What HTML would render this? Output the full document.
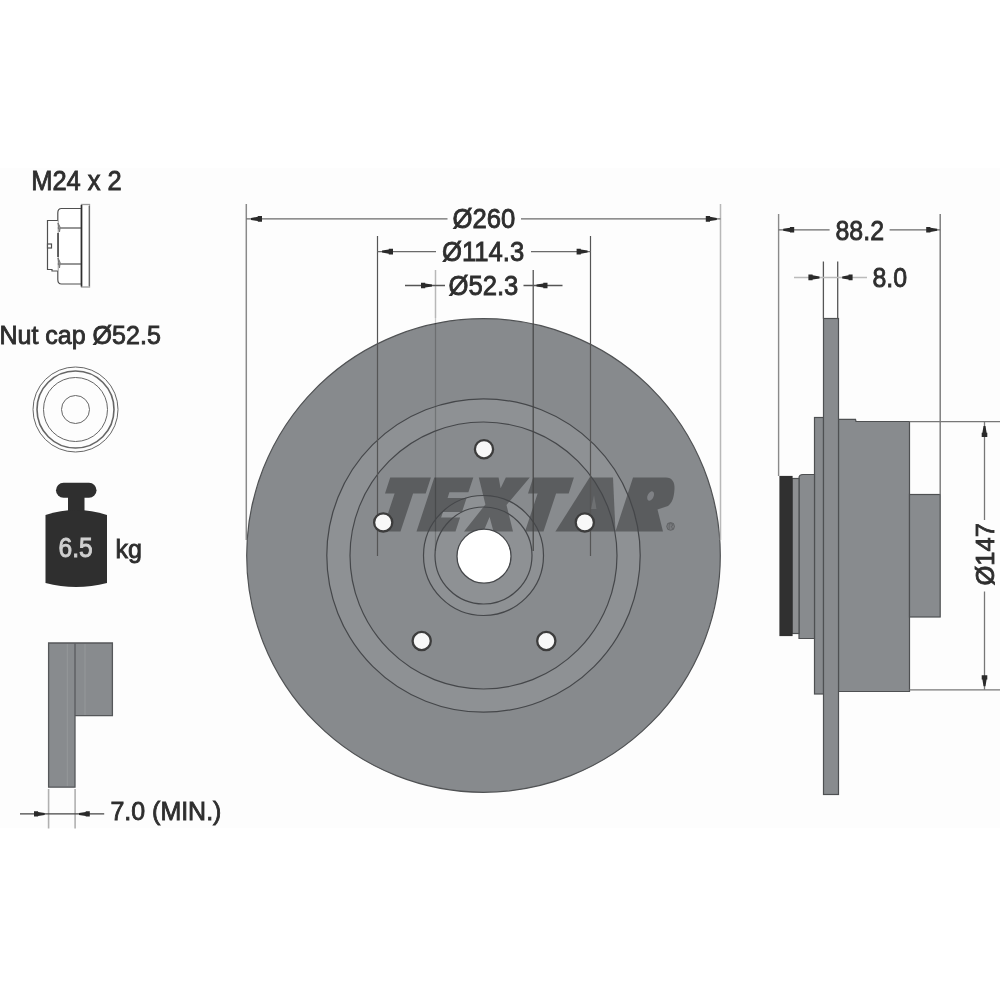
<!DOCTYPE html>
<html><head><meta charset="utf-8">
<style>
html,body{margin:0;padding:0;background:#fff;width:1000px;height:1000px;overflow:hidden}
svg{position:absolute;left:0;top:0;will-change:transform}
text{font-family:"Liberation Sans",sans-serif}
.t{fill:#2e2e2e;stroke:#2e2e2e;stroke-width:0.85px}
</style></head><body>
<svg width="1000" height="1000" viewBox="0 0 1000 1000">
<rect x="0" y="168" width="1000" height="660" fill="#fdfdfd"/>
<text transform="translate(31.2,189.5) scale(0.91,1)" font-size="28" class="t">M24 x 2</text>
<g fill="#fff" stroke="#505050" stroke-width="1.2">
  <path d="M81.5,208.5 H61.5 Q57.8,208.5 57.8,213 V279.5 Q57.8,284 61.5,284 H81.5 Z"/>
  <path d="M57.8,220.5 H47.5 V269.5 H52 V271 H57.8" fill="#fff"/>
  <line x1="57.8" y1="228" x2="81.5" y2="228"/>
  <line x1="57.8" y1="264" x2="81.5" y2="264"/>
  <rect x="47.5" y="244" width="4" height="4"/>
</g>
<path d="M58,223 Q61.5,227 59.5,232 Z M58,258 Q61.5,262 59.5,268 Z" fill="#aaa" stroke="#777" stroke-width="1"/>
<line x1="58" y1="233" x2="58" y2="257" stroke="#333" stroke-width="1.4"/>
<rect x="81.5" y="204.5" width="8" height="82.5" fill="#fff" stroke="#9a9a9a" stroke-width="1.3"/>
<line x1="81.5" y1="205" x2="81.5" y2="286.5" stroke="#2e2e2e" stroke-width="1.6"/>
<line x1="89.3" y1="206" x2="89.3" y2="286" stroke="#666" stroke-width="1.2"/>

<text transform="translate(-0.6,343.6) scale(0.99,1)" font-size="25.3" class="t">Nut cap Ø52.5</text>
<g fill="none" stroke="#666">
  <circle cx="75.5" cy="409.5" r="42.5" stroke-width="1"/>
  <circle cx="75.5" cy="409.5" r="38.5" stroke-width="1.6"/>
  <circle cx="75.5" cy="409.5" r="32" stroke-width="1"/>
  <circle cx="75.5" cy="409.5" r="14" stroke-width="1"/>
</g>
<g fill="#2f2f2f">
  <rect x="56" y="482.7" width="40.5" height="15" rx="7.5"/>
  <rect x="68" y="495" width="16.5" height="17"/>
  <path d="M45.5,515 Q76,505 107,515 V583 Q76,591 45.5,583 Z"/>
</g>
<text transform="translate(58.5,557) scale(0.91,1)" font-size="27" fill="#d0d0d0" stroke="#d0d0d0" stroke-width="0.9">6.5</text>
<text transform="translate(115.6,558.2) scale(1.0,1)" font-size="25" class="t">kg</text>
<g fill="#888b8e" stroke="#55575a" stroke-width="1.3">
  <path d="M48.6,643 H112.4 V715.7 H75 V787.2 H48.6 Z"/>
</g>
<line x1="75" y1="643.5" x2="75" y2="715" stroke="#55575a" stroke-width="1.2"/>
<g stroke="#95989a" stroke-width="1">
  <line x1="67.3" y1="644" x2="67.3" y2="786"/>
  <line x1="85" y1="644" x2="85" y2="715"/>
</g>
<line x1="48.6" y1="789" x2="48.6" y2="828.5" stroke="#b0b0b0" stroke-width="1.6"/>
<line x1="75.1" y1="789" x2="75.1" y2="828.5" stroke="#b0b0b0" stroke-width="1.6"/>
<line x1="20" y1="813.9" x2="104.2" y2="813.9" stroke="#444" stroke-width="1.3"/>
<path d="M44.7,812.9 L38.1,811.9 L38.1,811.3 L34.0,811.3 L34.0,816.5 L38.1,816.5 L38.1,815.9 L44.7,814.9 Z" fill="#2a2a2a"/>
<path d="M79.0,812.9 L85.7,811.9 L85.7,811.3 L89.8,811.3 L89.8,816.5 L85.7,816.5 L85.7,815.9 L79.0,814.9 Z" fill="#2a2a2a"/>
<text transform="translate(110.5,820.3) scale(0.96,1)" font-size="26" class="t">7.0 (MIN.)</text>
<circle cx="483.5" cy="555.5" r="236.8" fill="#878a8d" stroke="#505254" stroke-width="1.2"/>
<circle cx="483.5" cy="555.5" r="156.7" fill="#8e9194"/>
<circle cx="483.5" cy="555.5" r="133.5" fill="#888b8e"/>
<circle cx="483.5" cy="555.5" r="60" fill="#8e9194"/>
<line x1="435.5" y1="318" x2="435.5" y2="551" stroke="#000" stroke-width="1.3" stroke-opacity="0.2"/>
<g id="logo" fill="#000" fill-opacity="0.33"><path d="M390.2,477.5 L430.9,477.5 L425.7,493.4 L413.1,493.4 L400.5,531.5 L382.0,531.5 L394.6,493.4 L385.0,493.4 Z"/>
<path d="M533.2,477.5 L573.9,477.5 L568.7,493.4 L556.1,493.4 L543.5,531.5 L525.0,531.5 L537.6,493.4 L528.0,493.4 Z"/>
<path d="M434.3,477.5 L473.3,477.5 L468.4,492.3 L449.4,492.3 L447.6,497.9 L466.6,497.9 L462.0,511.9 L443.0,511.9 L441.1,517.5 L460.1,517.5 L455.5,531.5 L416.5,531.5 Z"/>
<path d="M478.8,477.5 L498.6,477.5 L500.6,488.2 L505.8,477.5 L529.8,477.5 L506.5,505.0 L513.0,531.5 L493.5,531.5 L489.6,517.0 L483.5,531.5 L464.0,531.5 L485.4,504.5 Z"/>
<path d="M589.6,477.5 L613.0,477.5 L615.5,531.5 L555.4,531.5 Z"/>
<path d="M633,477.5 L666,477.5 C672,477.5 675,482 674.5,489 C674,498 672,503 668,506 L657.5,509.5 L663,531.5 L615.4,531.5 Z"/>
</g>
<ellipse cx="650.6" cy="496" rx="3" ry="5" transform="rotate(25 650.6 496)" fill="#888b8e" fill-opacity="0.8"/>
<path d="M594,495 L596.5,509 L591,509 Z" fill="#fff" fill-opacity="0.12"/>
<circle cx="670.6" cy="526.4" r="3.9" fill="#000" fill-opacity="0.1" stroke="#000" stroke-opacity="0.22" stroke-width="1"/>
<path d="M669.2,529 V523.8 H671.3 Q672.6,523.8 672.6,525 Q672.6,526.3 671.2,526.3 L672.7,529" fill="none" stroke="#000" stroke-opacity="0.2" stroke-width="0.8"/>
<g fill="none" stroke="#45474a" stroke-width="1.2">
  <circle cx="483.5" cy="555.5" r="156.7"/>
  <circle cx="483.5" cy="555.5" r="133.5"/>
  <circle cx="483.5" cy="555.5" r="60"/>
  <circle cx="483.5" cy="555.5" r="48.5"/>
</g>
<circle cx="484" cy="556.2" r="27" fill="#fff" stroke="#45474a" stroke-width="1.3"/>
<line x1="377.5" y1="236" x2="377.5" y2="556" stroke="#555" stroke-width="1.2"/>
<line x1="590.5" y1="236" x2="590.5" y2="556" stroke="#555" stroke-width="1.2"/>
<line x1="533.2" y1="270" x2="533.2" y2="551" stroke="#444" stroke-width="1.2"/>
<g fill="#f8f8f8" stroke="#3c3c3c" stroke-width="2.3"><circle cx="484.0" cy="449.2" r="9.1"/><circle cx="383.2" cy="522.4" r="9.1"/><circle cx="421.7" cy="641.0" r="9.1"/><circle cx="546.3" cy="641.0" r="9.1"/><circle cx="584.8" cy="522.4" r="9.1"/></g>
<line x1="246.3" y1="204" x2="246.3" y2="540" stroke="#8a8a8a" stroke-width="1.5"/>
<line x1="720.5" y1="204" x2="720.5" y2="540" stroke="#b8b8b8" stroke-width="1.5"/>
<line x1="246.3" y1="218.9" x2="447.5" y2="218.9" stroke="#6a6a6a" stroke-width="1.3"/>
<line x1="521" y1="218.9" x2="720.5" y2="218.9" stroke="#6a6a6a" stroke-width="1.3"/>
<path d="M251.0,217.9 L257.8,216.8 L257.8,216.1 L262.0,216.1 L262.0,221.7 L257.8,221.7 L257.8,221.0 L251.0,219.9 Z" fill="#2a2a2a"/>
<path d="M716.8,217.9 L710.0,216.8 L710.0,216.1 L705.8,216.1 L705.8,221.7 L710.0,221.7 L710.0,221.0 L716.8,219.9 Z" fill="#2a2a2a"/>
<line x1="435.5" y1="270" x2="435.5" y2="318" stroke="#b8b8b8" stroke-width="1.5"/>
<line x1="377.5" y1="251.6" x2="436" y2="251.6" stroke="#6a6a6a" stroke-width="1.3"/>
<line x1="531" y1="251.6" x2="590.5" y2="251.6" stroke="#6a6a6a" stroke-width="1.3"/>
<path d="M382.0,250.6 L388.8,249.5 L388.8,248.8 L393.0,248.8 L393.0,254.4 L388.8,254.4 L388.8,253.7 L382.0,252.6 Z" fill="#2a2a2a"/>
<path d="M587.6,250.6 L580.8,249.5 L580.8,248.8 L576.6,248.8 L576.6,254.4 L580.8,254.4 L580.8,253.7 L587.6,252.6 Z" fill="#2a2a2a"/>
<line x1="405" y1="285.5" x2="445" y2="285.5" stroke="#555" stroke-width="1.3"/>
<line x1="523.5" y1="285.5" x2="562.5" y2="285.5" stroke="#555" stroke-width="1.3"/>
<path d="M432.0,284.5 L425.2,283.4 L425.2,282.7 L421.0,282.7 L421.0,288.3 L425.2,288.3 L425.2,287.6 L432.0,286.5 Z" fill="#2a2a2a"/>
<path d="M536.5,284.5 L543.3,283.4 L543.3,282.7 L547.5,282.7 L547.5,288.3 L543.3,288.3 L543.3,287.6 L536.5,286.5 Z" fill="#2a2a2a"/>
<text transform="translate(452.5,227.9) scale(0.95,1)" font-size="27" class="t">Ø260</text>
<text transform="translate(442,261) scale(0.95,1)" font-size="27" class="t">Ø114.3</text>
<text transform="translate(448.5,294.5) scale(0.95,1)" font-size="27" class="t">Ø52.3</text>
<g stroke="#4e5052" stroke-width="1.2">
  <path d="M838.5,419.3 H855.5 L856,421.5 H909.5 V691.5 H838.5 Z" fill="#888b8e"/>
  <rect x="909.5" y="494.5" width="30.7" height="122.5" fill="#888b8e"/>
  <rect x="814.5" y="417.5" width="9" height="276.5" fill="#888b8e"/>
  <path d="M799,638.5 V478 Q799,474.5 803,474.5 H814.5 V638.5 Z" fill="#888b8e"/>
  <rect x="792" y="478.5" width="7" height="155" fill="#8d8f91"/>
  <rect x="780" y="476.5" width="12" height="159" fill="#303030" stroke="#303030"/>
  <rect x="823.5" y="318.5" width="15" height="476" fill="#888b8e"/>
</g>
<line x1="778.6" y1="214" x2="778.6" y2="476" stroke="#8a8a8a" stroke-width="1.4"/>
<line x1="940.2" y1="214" x2="940.2" y2="494.5" stroke="#777" stroke-width="1.4"/>
<line x1="778.6" y1="229.8" x2="829.6" y2="229.8" stroke="#6a6a6a" stroke-width="1.3"/>
<line x1="889.6" y1="229.8" x2="940.2" y2="229.8" stroke="#6a6a6a" stroke-width="1.3"/>
<path d="M783.2,228.8 L790.0,227.7 L790.0,227.0 L794.2,227.0 L794.2,232.6 L790.0,232.6 L790.0,231.9 L783.2,230.8 Z" fill="#2a2a2a"/>
<path d="M937.2,228.8 L930.4,227.7 L930.4,227.0 L926.2,227.0 L926.2,232.6 L930.4,232.6 L930.4,231.9 L937.2,230.8 Z" fill="#2a2a2a"/>
<line x1="823.4" y1="261.5" x2="823.4" y2="318.5" stroke="#555" stroke-width="1.3"/>
<line x1="837.7" y1="261.5" x2="837.7" y2="318.5" stroke="#555" stroke-width="1.3"/>
<line x1="794" y1="277.4" x2="867" y2="277.4" stroke="#bbb" stroke-width="1.5"/>
<path d="M819.5,276.4 L812.6,275.3 L812.6,274.6 L808.4,274.6 L808.4,280.2 L812.6,280.2 L812.6,279.5 L819.5,278.4 Z" fill="#2a2a2a"/>
<path d="M842.2,276.4 L848.6,275.3 L848.6,274.6 L852.6,274.6 L852.6,280.2 L848.6,280.2 L848.6,279.5 L842.2,278.4 Z" fill="#2a2a2a"/>
<line x1="909.5" y1="421.7" x2="1000" y2="421.7" stroke="#777" stroke-width="1.3"/>
<line x1="909.5" y1="689.8" x2="1000" y2="689.8" stroke="#777" stroke-width="1.3"/>
<line x1="984.5" y1="421.7" x2="984.5" y2="520" stroke="#777" stroke-width="1.3"/>
<line x1="984.5" y1="591.5" x2="984.5" y2="689.8" stroke="#777" stroke-width="1.3"/>
<path d="M983.5,426.0 L982.4,432.8 L981.7,432.8 L981.7,437.0 L987.3,437.0 L987.3,432.8 L986.6,432.8 L985.5,426.0 Z" fill="#2a2a2a"/>
<path d="M983.5,686.2 L982.4,679.4 L981.7,679.4 L981.7,675.2 L987.3,675.2 L987.3,679.4 L986.6,679.4 L985.5,686.2 Z" fill="#2a2a2a"/>
<text transform="translate(835.5,239.6) scale(0.89,1)" font-size="28" class="t">88.2</text>
<text transform="translate(872.5,286.9) scale(0.89,1)" font-size="28" class="t">8.0</text>
<text transform="translate(993.6,585.5) rotate(-90) scale(0.99,1)" font-size="25.8" class="t">Ø147</text>
</svg>
</body></html>
